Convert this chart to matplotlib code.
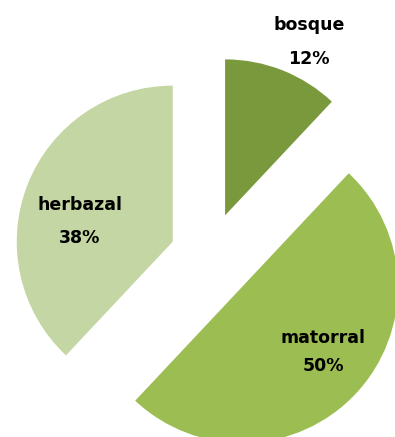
import matplotlib
matplotlib.use('Agg')
import matplotlib.pyplot as plt

# %%

labels = ['bosque', 'matorral', 'herbazal']
values = [12, 50, 38]
colors = ['#7a993c', '#9cbd52', '#c4d6a3']

# %%

fig = plt.figure(figsize=(3.95, 4.37), dpi=100)
ax = fig.add_axes([0, 0, 1, 1])

wedges, _ = ax.pie(values, colors=colors, startangle=90, counterclock=False,
                   explode=[0.28, 0.29, 0.25], radius=1.0)

# label text positions (in pie units, 156 px per unit, centre at px (209, 256))
def px(x, y):
    return (x - 209) / 156.0, (256 - y) / 156.0

label_pos = {'bosque': (309, 25, 309, 59),
             'matorral': (323, 338, 323, 366),
             'herbazal': (80, 205, 80, 238)}

for lab, val in zip(labels, values):
    x1, y1, x2, y2 = label_pos[lab]
    ax.text(*px(x1, y1), lab, ha='center', va='center', fontsize=12.5, fontweight='bold')
    ax.text(*px(x2, y2), '%d%%' % val, ha='center', va='center', fontsize=12.5, fontweight='bold')

ax.set_xlim(-209 / 156.0, (395 - 209) / 156.0)
ax.set_ylim(-(437 - 256) / 156.0, 256 / 156.0)
ax.set_aspect('equal', adjustable='datalim')
ax.axis('off')

fig.savefig('out.png', dpi=100)
